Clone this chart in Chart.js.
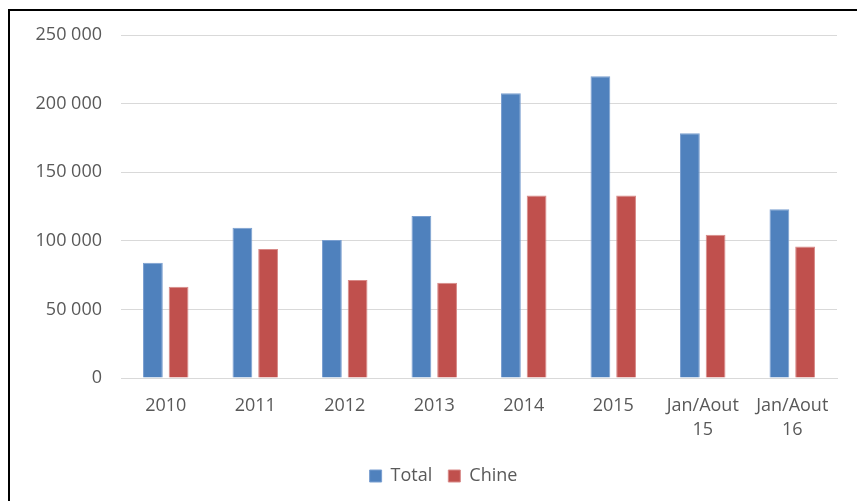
<!DOCTYPE html>
<html>
<head>
<meta charset="utf-8">
<script src="https://cdn.jsdelivr.net/npm/chart.js@4"></script>
<style>
  html, body { margin: 0; padding: 0; background: #fff; }
  #wrap { position: relative; width: 857px; height: 501px; overflow: hidden; }
  #frame { position: absolute; left: 8px; top: 9px; width: 900px; height: 600px;
           border-left: 2px solid #000; border-top: 2px solid #000; pointer-events: none; }
  canvas { position: absolute; left: 0; top: 0; }
</style>
</head>
<body>
<div id="wrap">
  <canvas id="chart" width="857" height="501"></canvas>
  <div id="frame"></div>
</div>
<script>
const categories = ["2010", "2011", "2012", "2013", "2014", "2015", ["Jan/Aout", "15"], ["Jan/Aout", "16"]];
const total = [84000, 109500, 100500, 118000, 207500, 220000, 178300, 123000];
const chine = [66500, 94000, 71500, 69500, 133000, 133000, 104500, 95800];
const y_ticks = [0, 50000, 100000, 150000, 200000, 250000];

const text_color = "#595959";
const font_family = "'Open Sans', 'Noto Sans', sans-serif";

function fmt(v) {
    return v.toString().replace(/\B(?=(\d{3})+(?!\d))/g, " ");
}

// the legend in the reference sits a bit right of the canvas centre
const shift_legend = {
    id: "shift_legend",
    afterLayout(chart) {
        chart.legend.left += 50;
    }
};

const ctx = document.getElementById("chart");
const chart = new Chart(ctx, {
    type: "bar",
    data: {
        labels: categories,
        datasets: [{
            label: "Total",
            data: total,
            backgroundColor: "#4F81BD",
            borderColor: "#7A9FD0",
            borderWidth: 1,
            categoryPercentage: 0.574,
            barPercentage: 0.77
        }, {
            label: "Chine",
            data: chine,
            backgroundColor: "#C0504D",
            borderColor: "#D88A88",
            borderWidth: 1,
            categoryPercentage: 0.574,
            barPercentage: 0.77
        }]
    },
    plugins: [shift_legend],
    options: {
        responsive: false,
        animation: false,
        layout: { padding: { top: 35, right: 20, left: 0, bottom: 6 } },
        plugins: {
            tooltip: { enabled: false },
            legend: {
                position: "bottom",
                labels: {
                    color: text_color,
                    font: { family: font_family, size: 18 },
                    boxWidth: 12,
                    boxHeight: 12,
                    padding: 16
                }
            }
        },
        scales: {
            x: {
                afterFit: (scale) => { scale.height = 73; },
                grid: { display: false, drawTicks: false },
                border: { color: "#d9d9d9" },
                ticks: {
                    color: text_color,
                    font: { family: font_family, size: 18, lineHeight: 1.33 },
                    padding: 16,
                    maxRotation: 0
                }
            },
            y: {
                min: 0,
                max: 250000,
                afterFit: (scale) => { scale.width = 121; },
                afterBuildTicks: (scale) => { scale.ticks = y_ticks.map(v => ({ value: v })); },
                grid: { color: "#d9d9d9", drawTicks: false },
                border: { display: false },
                ticks: {
                    color: text_color,
                    font: { family: font_family, size: 18 },
                    padding: 19,
                    callback: (v) => fmt(v)
                }
            }
        }
    }
});
</script>
</body>
</html>
